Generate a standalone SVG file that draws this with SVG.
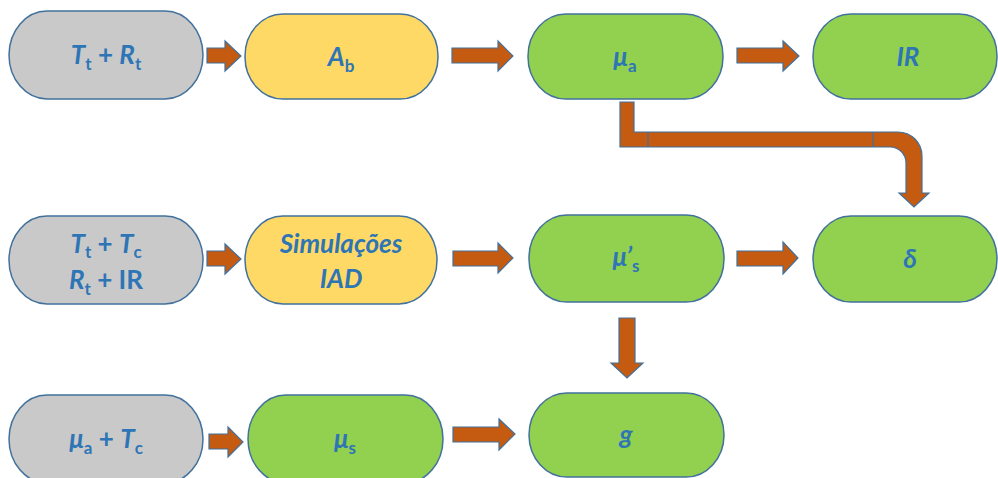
<svg xmlns="http://www.w3.org/2000/svg" width="998" height="478" viewBox="0 0 998 478">
<style>
.nd{stroke:#41719C;stroke-width:1.5}
.gray{fill:#C9C9C9}
.yel{fill:#FFD966}
.grn{fill:#92D050}
.arr{fill:#C55A11;stroke:#41719C;stroke-width:1.2;stroke-linejoin:miter}
text{font-family:Lato,"Open Sans","Liberation Sans",sans-serif;font-weight:bold;font-size:26px;fill:#2E75B6;text-anchor:middle}
.i{font-style:italic}
.sub{font-style:normal;font-size:17px}
</style>
<rect width="998" height="478" fill="#FFFFFF"/>
<g id="connectors">
<polygon class="arr" points="207,48 225,48 225,41 241,56 225,71 225,63 207,63"/>
<polygon class="arr" points="452,48 498,48 498,41 513,56 498,71 498,63 452,63"/>
<polygon class="arr" points="737,48 783,48 783,41 799,56 783,71 783,63 737,63"/>
<polygon class="arr" points="207,251 225,251 225,244 241,259 225,274 225,266 207,266"/>
<polygon class="arr" points="453,251 498,251 498,243 513,258 498,273 498,266 453,266"/>
<polygon class="arr" points="737,251 783,251 783,242 798,258 783,274 783,266 737,266"/>
<polygon class="arr" points="619,318 635,318 635,363 643,363 627,378 611,363 619,363"/>
<polygon class="arr" points="209,434 228,434 228,427 243,442 228,457 228,449 209,449"/>
<polygon class="arr" points="453,427 499,427 499,419 515,434 499,450 499,442 453,442"/>
<path class="arr" d="M620,102 L634,102 L634,132 L898,132 A24,24 0 0 1 922,156 L922,193 L929,193 L914,207 L899,193 L906,193 L906,163 A16,16 0 0 0 890,147 L620,147 Z"/>
<line x1="648" y1="132" x2="648" y2="147" stroke="#41719C" stroke-width="1.2"/>
<line x1="873" y1="132" x2="873" y2="147" stroke="#41719C" stroke-width="1.2"/>
</g>
<g id="n1">
<rect class="nd gray" x="9" y="11" width="194" height="88" rx="38" ry="44"/>
<text x="106" y="64"><tspan class="i">T</tspan><tspan class="sub" dy="6">t</tspan><tspan dy="-6"> + </tspan><tspan class="i">R</tspan><tspan class="sub" dy="6">t</tspan></text>
</g>
<g id="n2">
<rect class="nd yel" x="245" y="14" width="193" height="85" rx="38" ry="42"/>
<text x="341" y="66"><tspan class="i">A</tspan><tspan class="sub" dy="6">b</tspan></text>
</g>
<g id="n3">
<rect class="nd grn" x="528" y="14" width="195" height="85" rx="38" ry="42"/>
<text x="625" y="66"><tspan class="i">μ</tspan><tspan class="sub" dy="6">a</tspan></text>
</g>
<g id="n4">
<rect class="nd grn" x="813" y="14" width="184" height="85" rx="38" ry="42"/>
<text x="908" y="66" class="i">IR</text>
</g>
<g id="n5">
<rect class="nd gray" x="9" y="216" width="194" height="88" rx="38" ry="44"/>
<text x="106" y="253"><tspan class="i">T</tspan><tspan class="sub" dy="5">t</tspan><tspan dy="-5"> + </tspan><tspan class="i">T</tspan><tspan class="sub" dy="5">c</tspan></text>
<text x="106" y="289"><tspan class="i">R</tspan><tspan class="sub" dy="6">t</tspan><tspan dy="-6"> + IR</tspan></text>
</g>
<g id="n6">
<rect class="nd yel" x="245" y="216" width="192" height="88" rx="38" ry="44"/>
<text x="341" y="253" class="i">Simulações</text>
<text x="341" y="288" class="i">IAD</text>
</g>
<g id="n7">
<rect class="nd grn" x="529" y="215" width="195" height="87" rx="38" ry="43"/>
<text x="626" y="266"><tspan class="i">μ’</tspan><tspan class="sub" dy="6">s</tspan></text>
</g>
<g id="n8">
<rect class="nd grn" x="813" y="216" width="184" height="86" rx="38" ry="43"/>
<text x="910" y="268" class="i">δ</text>
</g>
<g id="n9">
<rect class="nd gray" x="9" y="395" width="194" height="88" rx="38" ry="44"/>
<text x="106" y="448"><tspan class="i">μ</tspan><tspan class="sub" dy="6">a</tspan><tspan dy="-6"> + </tspan><tspan class="i">T</tspan><tspan class="sub" dy="6">c</tspan></text>
</g>
<g id="n10">
<rect class="nd grn" x="248" y="395" width="195" height="88" rx="38" ry="44"/>
<text x="345" y="448"><tspan class="i">μ</tspan><tspan class="sub" dy="6">s</tspan></text>
</g>
<g id="n11">
<rect class="nd grn" x="529" y="393" width="195" height="84" rx="38" ry="42"/>
<text x="626" y="444" class="i">g</text>
</g>
</svg>
